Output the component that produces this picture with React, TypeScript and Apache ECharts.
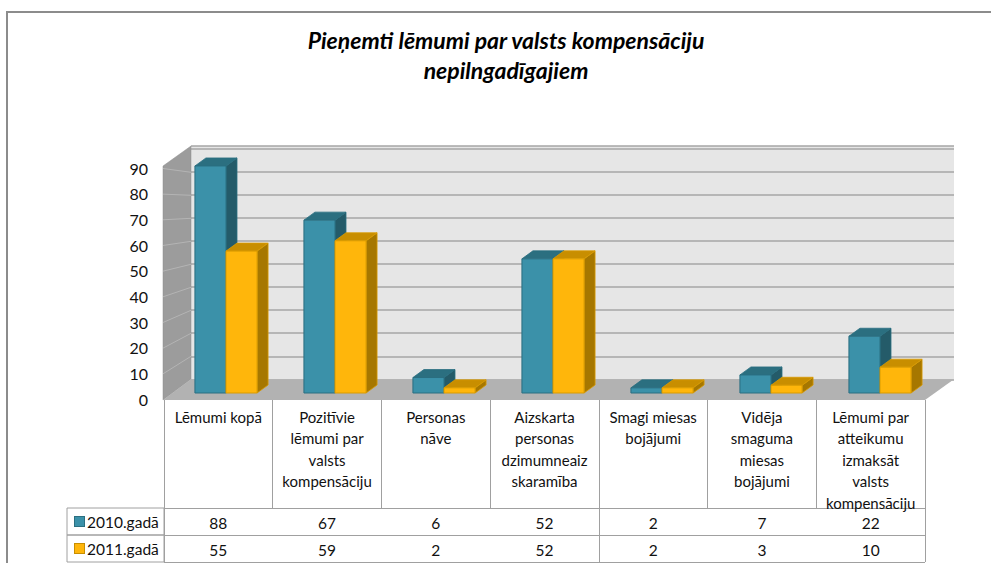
import React, { useEffect, useRef } from "react";
import * as echarts from "echarts";

const categories = [
  "Lēmumi kopā",
  "Pozitīvie lēmumi par valsts kompensāciju",
  "Personas nāve",
  "Aizskarta personas dzimumneaizskaramība",
  "Smagi miesas bojājumi",
  "Vidēja smaguma miesas bojājumi",
  "Lēmumi par atteikumu izmaksāt valsts kompensāciju",
];
const categoryLabels = [
  "Lēmumi kopā",
  "Pozitīvie\nlēmumi par\nvalsts\nkompensāciju",
  "Personas\nnāve",
  "Aizskarta\npersonas\ndzimumneaiz\nskaramība",
  "Smagi miesas\nbojājumi",
  "Vidēja\nsmaguma\nmiesas\nbojājumi",
  "Lēmumi par\natteikumu\nizmaksāt\nvalsts\nkompensāciju",
];
const seriesNames = ["2010.gadā", "2011.gadā"];
const values2010 = [88, 67, 6, 52, 2, 7, 22];
const values2011 = [55, 59, 2, 52, 2, 3, 10];
const yTicks = [0, 10, 20, 30, 40, 50, 60, 70, 80, 90];
const titleLines = ["Pieņemti lēmumi par valsts kompensāciju", "nepilngadīgajiem"];

const FONT = "Lato, 'Open Sans', sans-serif";
const GRID_LINE = "#a6a6a6";
const TABLE_LINE = "#a0a0a0";

const palettes = [
  { front: "#3b91a9", top: "#2b6f80", side: "#245b69", stroke: "#2a6e80" },
  { front: "#ffb60b", top: "#c88e00", side: "#a67700", stroke: "#d99b00" },
];

function barSeries(values: number[], sIdx: number) {
  const c = palettes[sIdx];
  return {
    type: "custom",
    name: seriesNames[sIdx],
    xAxisIndex: 2,
    yAxisIndex: 2,
    z: 5 + sIdx,
    data: values.map((v, i) => [i, v]),
    renderItem: (params: any, api: any) => {
      const i = api.value(0);
      const v = api.value(1);
      const top = api.coord([i, v]);
      const base = api.coord([i, 0]);
      const cw = api.size([1, 0])[0];
      const bw = cw * 0.285;
      const x0 = top[0] + (sIdx === 0 ? -bw : 0);
      const x1 = x0 + bw;
      const yt = top[1];
      const yb = base[1];
      const dx = 11;
      const dy = -8;
      return {
        type: "group",
        children: [
          {
            type: "polygon",
            shape: { points: [[x1, yt], [x1 + dx, yt + dy], [x1 + dx, yb + dy], [x1, yb]] },
            style: { fill: c.side, stroke: c.stroke, lineWidth: 0.8 },
          },
          {
            type: "polygon",
            shape: { points: [[x0, yt], [x0 + dx, yt + dy], [x1 + dx, yt + dy], [x1, yt]] },
            style: { fill: c.top, stroke: c.stroke, lineWidth: 0.8 },
          },
          {
            type: "rect",
            shape: { x: x0, y: yt, width: bw, height: yb - yt },
            style: { fill: c.front, stroke: c.stroke, lineWidth: 1 },
          },
        ],
      };
    },
  };
}

function tableSeries(values: number[], row: number) {
  return {
    type: "custom",
    xAxisIndex: 4,
    yAxisIndex: 4,
    z: 10,
    data: values.map((v, i) => [i, row, v]),
    renderItem: (params: any, api: any) => {
      const p = api.coord([api.value(0), api.value(1)]);
      return {
        type: "text",
        x: p[0],
        y: p[1] + 1,
        style: {
          text: String(api.value(2)),
          align: "center",
          verticalAlign: "middle",
          fontSize: 15.5,
          fontFamily: FONT,
          fill: "#111",
        },
      };
    },
  };
}

export default function App() {
  const ref = useRef<HTMLDivElement>(null);
  useEffect(() => {
    if (!ref.current) return;
    const chart = echarts.init(ref.current, undefined, { renderer: "svg" });

    // side wall geometry (decorative frame of the 3D plot)
    const fx = 163, bx = 191;
    const frontY = (v: number) => 399.5 - v * 2.567;
    const backY = (v: number) => 379.3 - v * 2.3;
    const sideLines = yTicks.slice(1).map((v) => ({
      type: "line",
      z: 1,
      shape: { x1: fx, y1: frontY(v), x2: bx, y2: backY(v) },
      style: { stroke: "#b4b4b4", lineWidth: 1 },
    }));

    const catAxisBase = {
      type: "category",
      data: categories,
      axisLine: { show: false },
      axisTick: { show: false },
      axisLabel: { show: false },
    };

    chart.setOption({
      animation: false,
      grid: [
        { left: 191, top: 146, width: 763, height: 233.3, show: true, backgroundColor: "#e6e6e6", borderWidth: 0 },
        { left: 163, top: 168, width: 762, height: 231 },
        { left: 171.5, top: 160.8, width: 763, height: 232.2 },
        { left: 164, top: 400, width: 761, height: 108 },
        { left: 164, top: 508, width: 761, height: 54 },
      ],
      xAxis: [
        { ...catAxisBase, gridIndex: 0 },
        { ...catAxisBase, gridIndex: 1 },
        { ...catAxisBase, gridIndex: 2 },
        {
          ...catAxisBase,
          gridIndex: 3,
          position: "top",
          axisLabel: {
            show: true,
            inside: true,
            margin: 6,
            interval: 0,
            fontSize: 15,
            lineHeight: 21.5,
            fontFamily: FONT,
            color: "#111",
            formatter: (val: string) => categoryLabels[categories.indexOf(val)],
          },
          splitLine: { show: true, lineStyle: { color: TABLE_LINE, width: 1 } },
        },
        {
          ...catAxisBase,
          gridIndex: 4,
          splitLine: { show: true, lineStyle: { color: TABLE_LINE, width: 1 } },
        },
      ],
      yAxis: [
        {
          type: "value",
          gridIndex: 0,
          min: 0,
          max: 101.3,
          interval: 10,
          axisLabel: { show: false },
          axisLine: { show: false },
          axisTick: { show: false },
          splitLine: { show: true, lineStyle: { color: GRID_LINE, width: 1.5 } },
        },
        {
          type: "value",
          gridIndex: 1,
          min: 0,
          max: 90,
          interval: 10,
          axisLine: { show: false },
          axisTick: { show: false },
          splitLine: { show: false },
          axisLabel: { show: true, margin: 15, fontSize: 16, fontFamily: FONT, color: "#111" },
        },
        {
          type: "value",
          gridIndex: 2,
          min: 0,
          max: 90,
          axisLabel: { show: false },
          axisLine: { show: false },
          axisTick: { show: false },
          splitLine: { show: false },
        },
        {
          type: "value",
          gridIndex: 3,
          show: false,
        },
        {
          type: "category",
          gridIndex: 4,
          inverse: true,
          data: seriesNames,
          axisLine: { show: false },
          axisTick: { show: false },
          splitLine: { show: true, lineStyle: { color: TABLE_LINE, width: 1 } },
          axisLabel: {
            show: true,
            align: "left",
            margin: 89,
            fontSize: 15,
            fontFamily: FONT,
            color: "#111",
            formatter: (val: string) => `{${val === seriesNames[0] ? "a" : "b"}|}{t|${val}}`,
            rich: {
              a: { width: 9, height: 9, backgroundColor: palettes[0].front, borderColor: palettes[0].top, borderWidth: 1 },
              b: { width: 9, height: 9, backgroundColor: palettes[1].front, borderColor: palettes[1].top, borderWidth: 1 },
              t: { fontSize: 15.5, fontFamily: FONT, color: "#111", padding: [0, 0, 0, 3] },
            },
          },
        },
      ],
      graphic: [
        {
          type: "polyline",
          z: 0,
          shape: { points: [[7, 563], [7, 12], [991, 12]] },
          style: { stroke: "#8c8c8c", lineWidth: 2, fill: "none" },
        },
        {
          type: "text",
          z: 3,
          x: 506,
          y: 25,
          style: {
            text: titleLines.join("\n"),
            align: "center",
            verticalAlign: "top",
            fontSize: 23,
            lineHeight: 30,
            fontWeight: "bold",
            fontStyle: "italic",
            fontFamily: FONT,
            fill: "#000",
          },
        },
        {
          type: "polygon",
          z: 1,
          shape: { points: [[fx, 166], [bx, 146], [bx, 379.3], [fx, 400]] },
          style: { fill: "#9c9c9c", stroke: "#8f8f8f", lineWidth: 0.5 },
        },
        ...sideLines,
        {
          type: "polygon",
          z: 1,
          shape: { points: [[fx, 400], [bx, 379.3], [954, 379.3], [925, 400]] },
          style: { fill: "#b2b2b2" },
        },
        {
          type: "rect",
          z: 1,
          shape: { x: 67, y: 508, width: 97, height: 27 },
          style: { fill: "none", stroke: TABLE_LINE, lineWidth: 1 },
        },
        {
          type: "rect",
          z: 1,
          shape: { x: 67, y: 535, width: 97, height: 27 },
          style: { fill: "none", stroke: TABLE_LINE, lineWidth: 1 },
        },
      ],
      series: [
        barSeries(values2010, 0),
        barSeries(values2011, 1),
        tableSeries(values2010, 0),
        tableSeries(values2011, 1),
      ],
    });
    return () => chart.dispose();
  }, []);
  return (
    <div
      ref={ref}
      style={{ position: "absolute", left: 0, top: 0, width: 991, height: 563, background: "#fff" }}
    />
  );
}
